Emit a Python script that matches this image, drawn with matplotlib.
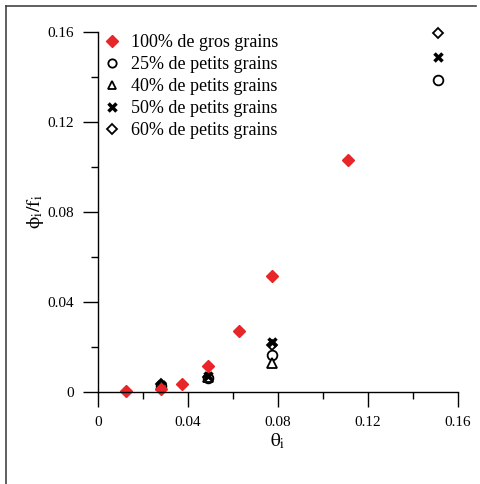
import matplotlib.pyplot as plt
from matplotlib.lines import Line2D
from matplotlib.ticker import MultipleLocator, FuncFormatter

plt.rcParams['font.family'] = 'Liberation Serif'
plt.rcParams['mathtext.fontset'] = 'stix'

# Donnees
theta_gros = [0.0125, 0.028, 0.0375, 0.049, 0.0625, 0.0775, 0.111]
phi_gros = [0.0005, 0.0015, 0.0035, 0.0115, 0.027, 0.0515, 0.103]

theta_25 = [0.028, 0.049, 0.0775, 0.151]
phi_25 = [0.0028, 0.0062, 0.0165, 0.1387]

theta_40 = [0.028, 0.049, 0.0775]
phi_40 = [0.0032, 0.0066, 0.0128]

theta_50 = [0.028, 0.049, 0.0775, 0.151]
phi_50 = [0.0030, 0.0070, 0.0222, 0.149]

theta_60 = [0.028, 0.049, 0.0775, 0.151]
phi_60 = [0.0034, 0.0068, 0.0210, 0.1596]

labels = ['100% de gros grains', '25% de petits grains', '40% de petits grains',
          '50% de petits grains', '60% de petits grains']

RED = '#e8262a'
fig = plt.figure(figsize=(4.8, 4.84), dpi=100)
ax = fig.add_axes([98 / 480, 92 / 484, 360 / 480, 360 / 484])

ax.plot(theta_60, phi_60, ls='none', marker='D', ms=5, mfc='white', mec='black', mew=1.3, clip_on=False)
ax.plot(theta_25, phi_25, ls='none', marker='o', ms=7, mfc='white', mec='black', mew=1.3, clip_on=False)
ax.plot(theta_40, phi_40, ls='none', marker='^', ms=7, mfc='white', mec='black', mew=1.3, clip_on=False)
ax.plot(theta_50, phi_50, ls='none', marker='x', ms=6, color='black', mew=2.5, clip_on=False)
ax.plot(theta_gros, phi_gros, ls='none', marker='D', ms=6, color=RED, mec=RED, clip_on=False)

ax.set_xlim(0, 0.16)
ax.set_ylim(0, 0.16)
for s in ['top', 'right']:
    ax.spines[s].set_visible(False)
ax.spines['left'].set_linewidth(1)
ax.spines['bottom'].set_linewidth(1)
ax.xaxis.set_major_locator(MultipleLocator(0.04))
ax.xaxis.set_minor_locator(MultipleLocator(0.02))
ax.yaxis.set_major_locator(MultipleLocator(0.04))
ax.yaxis.set_minor_locator(MultipleLocator(0.02))
fmt = FuncFormatter(lambda v, p: '0' if abs(v) < 1e-9 else f'{v:g}')
ax.xaxis.set_major_formatter(fmt)
ax.yaxis.set_major_formatter(fmt)
ax.tick_params(which='major', direction='out', length=11, width=1, labelsize=11, pad=6)
ax.tick_params(which='minor', direction='out', length=5, width=1)

ax.set_xlabel(r'$\mathrm{\theta_i}$', fontsize=14, labelpad=2)
ax.set_ylabel(r'$\mathrm{\phi_i/f_i}$', fontsize=14, labelpad=1)

handles = [
    Line2D([], [], ls='none', marker='D', ms=6, color=RED),
    Line2D([], [], ls='none', marker='o', ms=6, mfc='white', mec='black', mew=1.3),
    Line2D([], [], ls='none', marker='^', ms=6, mfc='white', mec='black', mew=1.3),
    Line2D([], [], ls='none', marker='x', ms=6, color='black', mew=2.5),
    Line2D([], [], ls='none', marker='D', ms=5, mfc='white', mec='black', mew=1.3),
]
ax.legend(handles, labels, loc='upper left', bbox_to_anchor=(-0.005, 1.014), frameon=False,
          fontsize=13, handlelength=1, handletextpad=0.5, labelspacing=0.28, borderaxespad=0)

# cadre exterieur
fig.add_artist(Line2D([6 / 480, 6 / 480], [0, 1 - 6 / 484], color='#444444', lw=1.2,
                      transform=fig.transFigure))
fig.add_artist(Line2D([6 / 480, 476 / 480], [1 - 6 / 484, 1 - 6 / 484], color='#444444', lw=1.2,
                      transform=fig.transFigure))

fig.savefig('out.png', dpi=100)
